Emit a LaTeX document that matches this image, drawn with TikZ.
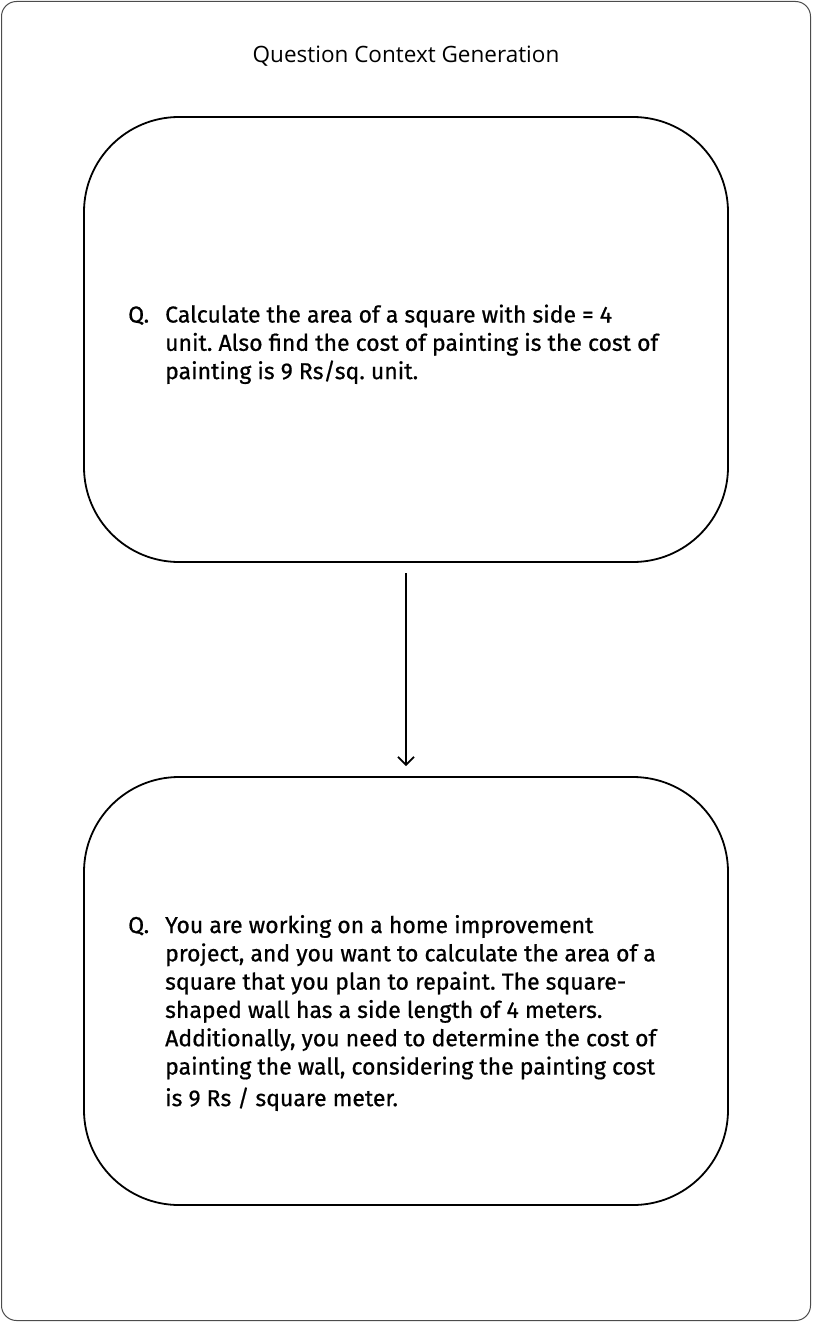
\documentclass[tikz,border=0pt]{standalone}
\usepackage{fontspec}
\setmainfont{Fira Sans}[FakeBold=0.7]
\newfontfamily\titlefont{Open Sans}
\usetikzlibrary{arrows.meta}
\frenchspacing
% a question: "Q." label followed by its hanging lines
\newenvironment{qlines}{\begin{tabular}[t]{@{}l@{}l@{}}}{\end{tabular}}
\newcommand{\qlabel}{\makebox[37pt][l]{Q.}}
\begin{document}
\begin{tikzpicture}[x=1pt,y=-1pt,
  frame/.style={draw=black!70, line width=1pt, rounded corners=15pt},
  qbox/.style={draw, line width=1.8pt, rounded corners=95pt,
    minimum width=644pt, inner sep=0pt, outer sep=0pt},
  qtext/.style={anchor=base west, inner sep=0pt,
    font=\fontsize{23}{28.3}\selectfont},
  flow/.style={-{Straight Barb[length=8pt,width=16pt]}, line width=1.7pt,
    shorten <=11pt, shorten >=11pt}]
  \useasboundingbox (0,0) rectangle (812,1322);
  % outer frame
  \draw[frame] (1.5,1.5) rectangle (810.5,1320.5);
  % title
  \node[anchor=base, inner sep=0pt, font=\titlefont\fontsize{22.5}{26}\selectfont]
    (title) at (406,63) {Question Context Generation};
  % the two question boxes
  \node[qbox, minimum height=445pt] (orig) at (406,339.5) {};
  \node[qbox, minimum height=428pt] (ctx) at (406,991) {};
  \draw[flow] (orig) -- (ctx);
  % question texts
  \node[qtext] (origq) at (128,322.5) {\begin{qlines}
    \qlabel & Calculate the area of a square with side = 4\\
    & unit. Also find the cost of painting is the cost of\\
    & painting is 9 Rs/sq. unit.
  \end{qlines}};
  \node[qtext] (ctxq) at (128,933) {\begin{qlines}
    \qlabel & You are working on a home improvement\\
    & project, and you want to calculate the area of a\\
    & square that you plan to repaint. The square-\\
    & shaped wall has a side length of 4 meters.\\
    & Additionally, you need to determine the cost of\\
    & painting the wall, considering the painting cost\\[3.3pt]
    & is 9 Rs / square meter.
  \end{qlines}};
\end{tikzpicture}
\end{document}
